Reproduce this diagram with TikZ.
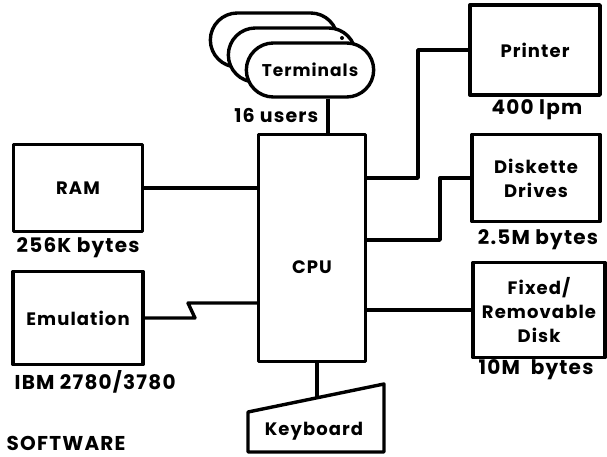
\documentclass[tikz,border=0pt]{standalone}
\usepackage{fontspec}
\setmainfont{Poppins}[LetterSpace=6]
\usetikzlibrary{shapes.misc}

\begin{document}
\begin{tikzpicture}[x=1pt,y=-1pt,line width=3.4pt,line join=round,
  font=\fontsize{18}{24}\selectfont\bfseries,
  unit/.style={draw,rectangle,align=center},
  term/.style={draw,rounded rectangle,fill=white,minimum width=134pt,minimum height=54pt},
  note/.style={inner sep=0pt,font=\fontsize{20}{24}\selectfont\bfseries}]
\useasboundingbox (0,0) rectangle (607,457);
% terminals, back to front
\node[term] (t3) at (274,40) {};
\node[term] (t2) at (292,55) {};
\fill (342,38) circle (2pt);
\node[term,font=\fontsize{17}{20}\selectfont\bfseries] (term) at (310,70) {Terminals};
\node[note,anchor=east,font=\fontsize{19}{24}\selectfont\bfseries] (usr) at (320,115) {16 users};
% boxes
\node[unit,minimum width=107pt,minimum height=227pt] (cpu) at (312,248) {};
\node (cpulbl) at (312,267) {CPU};
\node[unit,minimum width=129pt,minimum height=87pt] (ram) at (78,188) {RAM};
\node[note,anchor=west] (ramlbl) at (15,248) {256K bytes};
\node[unit,minimum width=130pt,minimum height=93pt] (emu) at (78,318) {Emulation};
\node[note,anchor=west] (emulbl) at (13,382) {IBM 2780/3780};
\node[note,anchor=west] (sw) at (5,443) {SOFTWARE};
\node[unit,minimum width=130pt,minimum height=90pt] (prn) at (535,50) {Printer};
\node[note] (prnlbl) at (537,110) {400 lpm};
\node[unit,minimum width=128pt,minimum height=87pt] (dsk) at (536,178) {Diskette\\Drives};
\node[note] (dsklbl) at (538,240) {2.5M bytes};
\node[unit,minimum width=132pt,minimum height=95pt] (fix) at (539,310) {Fixed/\\Removable\\Disk};
\node[note] (fixlbl) at (536,370) {10M\ \ bytes};
% keyboard
\node (kbd) at (314,431) {Keyboard};
\draw (248,452) -- (248,412) -- (384,384) -- (384,452) -- cycle;
\coordinate (kt) at (317,398);
% connectors
\draw ([xshift=18pt]term.south) -- ([xshift=18pt]term.south |- cpu.north);
\draw (ram.east) -- (ram.east -| cpu.west);
\draw (emu.east) -- (195,318) -- (188,303) coordinate (zz) -- (zz -| cpu.west);
\draw (prn.west) -| (418,178) coordinate (pb) -- (pb -| cpu.east);
\draw (dsk.west) -| (440,240) coordinate (db) -- (db -| cpu.east);
\draw (fix.west) -- (fix.west -| cpu.east);
\draw (kt |- cpu.south) -- (kt);
\end{tikzpicture}
\end{document}
